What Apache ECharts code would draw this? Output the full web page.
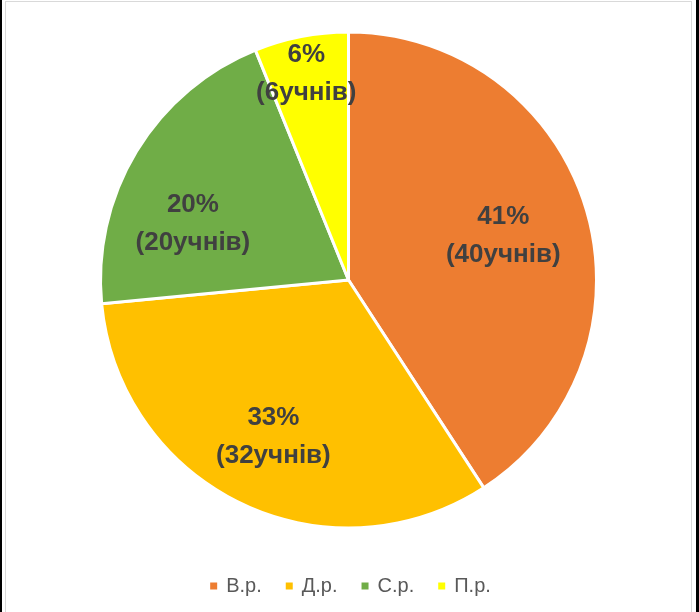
<!DOCTYPE html>
<html>
<head>
<meta charset="utf-8">
<script src="https://cdn.jsdelivr.net/npm/echarts@6/dist/echarts.min.js"></script>
<style>
html,body{margin:0;padding:0;background:#000;width:699px;height:612px;overflow:hidden;}
#bg{position:absolute;left:2px;top:0;width:694px;height:612px;background:#fff;}
#frame{position:absolute;left:5px;top:1px;width:685px;height:640px;border:1.5px solid #d9d9d9;}
#chart{position:absolute;left:0;top:0;width:699px;height:612px;}
</style>
</head>
<body>
<div id="bg"></div>
<div id="frame"></div>
<div id="chart"></div>
<script>
const categories = ['В.р.', 'Д.р.', 'С.р.', 'П.р.'];
const counts = [40, 32, 20, 6];
const percents = ['41%', '33%', '20%', '6%'];
const colors = ['#ED7D31', '#FFC000', '#70AD47', '#FFFF00'];
const labelShift = [[33, -8], [-20, 42], [-47, 10], [-18, -82]];

const chart = echarts.init(document.getElementById('chart'), null, {renderer: 'canvas'});
const data = categories.map((c, i) => ({
  name: c,
  value: counts[i],
  itemStyle: {color: colors[i]}
}));
chart.setOption({
  animation: false,
  backgroundColor: 'transparent',
  legend: {
    data: categories,
    left: 'center',
    top: 571,
    icon: 'rect',
    itemWidth: 9,
    itemHeight: 9,
    itemGap: 22,
    textStyle: {color: '#595959', fontSize: 20, fontFamily: 'Liberation Sans, Arial, sans-serif', padding: [0, 0, 0, 3]}
  },
  series: [{
    type: 'pie',
    center: [348.5, 280],
    radius: 248,
    startAngle: 90,
    clockwise: true,
    data: data,
    itemStyle: {borderColor: '#fff', borderWidth: 3},
    label: {
      show: true,
      position: 'inside',
      formatter: p => percents[p.dataIndex] + '\n(' + counts[p.dataIndex] + 'учнів)',
      color: '#404040',
      fontSize: 26,
      fontWeight: 'bold',
      lineHeight: 38,
      fontFamily: 'Liberation Sans, Arial, sans-serif'
    },
    labelLayout: p => ({dx: labelShift[p.dataIndex][0], dy: labelShift[p.dataIndex][1]}),
    emphasis: {disabled: true}
  }]
});
</script>
</body>
</html>
